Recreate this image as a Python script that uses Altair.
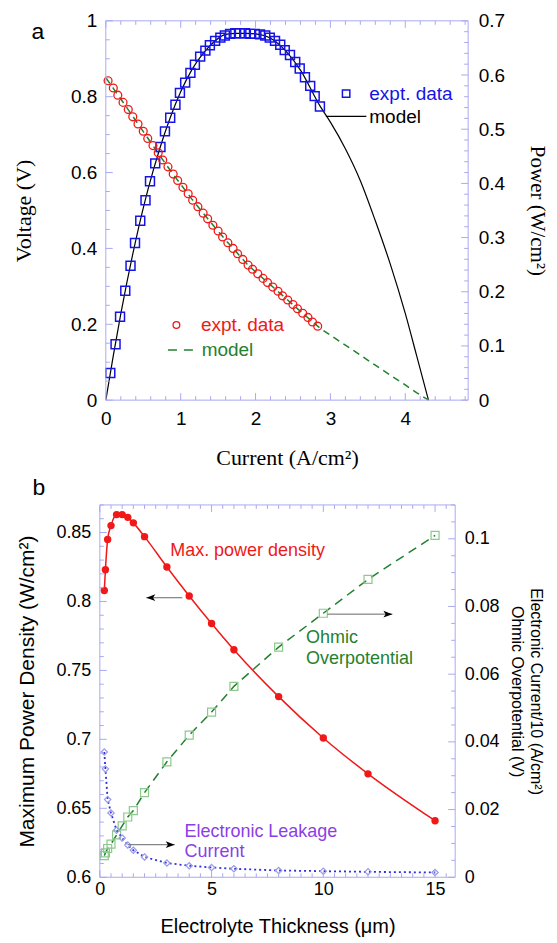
import altair as alt
import pandas as pd

# ---------------- panel a : I-V and I-P curves ----------------
curr_v = [0.03, 0.10, 0.16, 0.23, 0.30, 0.36, 0.43, 0.50, 0.56, 0.63, 0.70,
          0.76, 0.83, 0.90, 0.96, 1.03, 1.10, 1.16, 1.23, 1.30, 1.36, 1.43,
          1.50, 1.56, 1.63, 1.70, 1.76, 1.83, 1.90, 1.96, 2.03, 2.10, 2.16,
          2.23, 2.30, 2.36, 2.43, 2.50, 2.56, 2.63, 2.70, 2.76, 2.83]
volt = [0.842, 0.823, 0.804, 0.785, 0.766, 0.747, 0.728, 0.709, 0.690, 0.671, 0.652,
        0.633, 0.615, 0.596, 0.579, 0.561, 0.544, 0.527, 0.510, 0.493, 0.478, 0.461,
        0.446, 0.430, 0.415, 0.400, 0.386, 0.371, 0.356, 0.345, 0.333, 0.321, 0.310,
        0.298, 0.287, 0.275, 0.264, 0.252, 0.241, 0.229, 0.218, 0.206, 0.195]
curr_p = [0.06, 0.13, 0.19, 0.26, 0.33, 0.39, 0.46, 0.53, 0.59, 0.66, 0.73,
          0.79, 0.86, 0.93, 0.99, 1.06, 1.13, 1.19, 1.26, 1.33, 1.39, 1.46,
          1.53, 1.59, 1.66, 1.73, 1.79, 1.86, 1.93, 1.99, 2.06, 2.13, 2.19,
          2.26, 2.33, 2.39, 2.46, 2.53, 2.59, 2.66, 2.73, 2.79, 2.86]
power = [0.050, 0.103, 0.154, 0.202, 0.248, 0.290, 0.331, 0.369, 0.404, 0.437, 0.467,
         0.496, 0.521, 0.545, 0.567, 0.586, 0.604, 0.619, 0.634, 0.645, 0.655, 0.663,
         0.669, 0.673, 0.676, 0.677, 0.677, 0.677, 0.676, 0.676, 0.675, 0.673, 0.669,
         0.663, 0.656, 0.646, 0.637, 0.624, 0.612, 0.596, 0.580, 0.561, 0.542]
curr_model = [0.0, 0.1, 0.2, 0.4, 0.56, 0.72, 0.86, 1.0, 1.15, 1.3, 1.45, 1.6, 1.75, 1.88,
              2.0, 2.2, 2.4, 2.6, 2.86, 3.0, 3.2, 3.4, 3.6, 3.8, 4.0, 4.15, 4.31]
volt_model = [0.850, 0.822, 0.794, 0.737, 0.691, 0.645, 0.606, 0.569, 0.530, 0.493, 0.457,
              0.422, 0.389, 0.360, 0.338, 0.304, 0.269, 0.234, 0.190, 0.171, 0.145, 0.119,
              0.092, 0.066, 0.040, 0.020, 0.0]
power_model = [0.0, 0.082, 0.159, 0.295, 0.387, 0.464, 0.521, 0.569, 0.610, 0.640, 0.662,
               0.675, 0.677, 0.677, 0.676, 0.668, 0.645, 0.609, 0.543, 0.513, 0.464, 0.405,
               0.331, 0.251, 0.160, 0.083, 0.0]

# ---------------- panel b : thickness study ----------------
thickness = [0.2, 0.25, 0.35, 0.5, 0.75, 1.0, 1.25, 1.5, 2, 3, 4, 5, 6, 8, 10, 12, 15]
max_power = [0.808, 0.823, 0.845, 0.855, 0.863, 0.863, 0.861, 0.857, 0.847, 0.825,
             0.804, 0.784, 0.765, 0.731, 0.701, 0.675, 0.641]
leak_current = [0.037, 0.032, 0.023, 0.019, 0.0139, 0.0116, 0.0095, 0.008, 0.006, 0.0042,
                0.0034, 0.0029, 0.0025, 0.002, 0.0018, 0.0016, 0.0014]
ohmic = [0.0064, 0.0072, 0.0085, 0.0098, 0.0125, 0.0152, 0.0178, 0.0197, 0.025, 0.0341,
         0.042, 0.0488, 0.0564, 0.068, 0.078, 0.088, 0.101]

# tick label values
xa_labels = [0, 1, 2, 3, 4]
va_labels = [0, 0.2, 0.4, 0.6, 0.8, 1]
pa_labels = [0, 0.1, 0.2, 0.3, 0.4, 0.5, 0.6, 0.7]
xb_labels = [0, 5, 10, 15]
pb_labels = [0.6, 0.65, 0.7, 0.75, 0.8, 0.85]
rb_labels = [0, 0.02, 0.04, 0.06, 0.08, 0.1]

SANS = "Liberation Sans"
SERIF = "Liberation Serif"
AX = "#a9a9f2"
RED = "#f01818"
BLUE = "#1414e6"
GREEN = "#23812f"
LGREEN = "#8cc98c"
DBLUE = "#2f2fe0"
LBLUE = "#9a9aec"
PURPLE = "#8b3ee6"

WA, HA = 369, 380
XA_RANGE = [6, 369]
XA_DOM = [0, 4.84]
VA_DOM = [0, 1]
PA_DOM = [0, 0.7]

WB, HB = 356, 373
XB_DOM = [0, 15.9]
PB_DOM = [0.6, 0.87]
RB_DOM = [0, 0.11]

MAJ, MIN = 7, 4


def sc(dom, rng=None):
    if rng is None:
        return alt.Scale(domain=dom, nice=False, zero=False)
    return alt.Scale(domain=dom, range=rng, nice=False, zero=False)


def axis_kw(**kw):
    base = dict(format="~g", ticks=False, tickSize=0, domain=False, grid=False,
                labelFlush=False, labelColor="black", titleColor="black",
                titleFontWeight="normal", labelFont=SANS)
    base.update(kw)
    return alt.Axis(**base)


xa_axis = axis_kw(values=xa_labels, title="Current (A/cm²)", titleFont=SERIF,
                  titleFontSize=22, titlePadding=19, labelFontSize=19, labelPadding=9)
va_axis = axis_kw(orient="left", values=va_labels, title="Voltage (V)", titleFont=SERIF,
                  titleFontSize=22, titlePadding=35, labelFontSize=19, labelPadding=9, offset=-6)
pa_axis = axis_kw(orient="right", values=pa_labels, title="Power (W/cm²)", titleFont=SERIF,
                  titleFontSize=21, titlePadding=22, labelFontSize=19, labelPadding=10)

xb_axis = axis_kw(values=xb_labels, title="Electrolyte Thickness  (μm)", titleFont=SANS,
                  titleFontSize=20, titlePadding=18, labelFontSize=18, labelPadding=3)
pb_axis = axis_kw(orient="left", values=pb_labels, title="Maximum Power Density (W/cm²)",
                  titleFont=SANS, titleFontSize=21, titlePadding=18, labelFontSize=18, labelPadding=9)
rb_axis = axis_kw(orient="right", values=rb_labels,
                  title=["Electronic Current/10 (A/cm²)", "Ohmic Overpotential (V)"],
                  titleFont=SANS, titleFontSize=16, titleLineHeight=19, titlePadding=9,
                  labelFontSize=18, labelPadding=9)


def xa(field="x"):
    return alt.X(f"{field}:Q", scale=sc(XA_DOM, XA_RANGE), axis=xa_axis)


def xb(field="x"):
    return alt.X(f"{field}:Q", scale=sc(XB_DOM), axis=xb_axis)


def yy(field, dom, axis=None):
    return alt.Y(f"{field}:Q", scale=sc(dom), axis=axis)


def xticks(xfn, vals, H, L):
    df = pd.DataFrame({"v": vals})
    bot = alt.Chart(df).mark_rule(color=AX, strokeWidth=1).encode(
        x=xfn("v"), y=alt.value(H), y2=alt.value(H - L))
    top = alt.Chart(df).mark_rule(color=AX, strokeWidth=1).encode(
        x=xfn("v"), y=alt.value(0), y2=alt.value(L))
    return [bot, top]


def yticks(vals, dom, X, L):
    df = pd.DataFrame({"v": vals})
    return alt.Chart(df).mark_rule(color=AX, strokeWidth=1).encode(
        y=yy("v", dom), x=alt.value(X), x2=alt.value(X + L))


def split(vals, step):
    major = [v for v in vals if abs(round(v / step) * step - v) < 1e-9]
    minor = [v for v in vals if abs(round(v / step) * step - v) >= 1e-9]
    return major, minor


ONE = pd.DataFrame({"d": [0]})


def border(W, H, x0=0):
    return alt.Chart(ONE).mark_rect(fillOpacity=0, stroke=AX, strokeWidth=1).encode(
        x=alt.value(x0), x2=alt.value(W), y=alt.value(0), y2=alt.value(H))


# ---------------- build panel a ----------------
df_v = pd.DataFrame({"x": curr_v, "y": volt})
df_p = pd.DataFrame({"x": curr_p, "y": power})
df_m = pd.DataFrame({"x": curr_model, "v": volt_model, "p": power_model})

xa_vals = [round(0.2 * i, 1) for i in range(25)]
va_vals = [round(0.05 * i, 2) for i in range(21)]
pa_vals = [round(0.02 * i, 2) for i in range(36)]
xa_maj, xa_min = split(xa_vals, 1)
va_maj, va_min = split(va_vals, 0.2)
pa_maj, pa_min = split(pa_vals, 0.1)

layers_a = []
layers_a.append(alt.Chart(df_m).mark_line(color="black", strokeWidth=1.2, interpolate="monotone")
                .encode(x=xa(), y=yy("p", PA_DOM)))
layers_a.append(alt.Chart(df_m).mark_line(color=GREEN, strokeWidth=1.5, strokeDash=[7, 5])
                .encode(x=xa(), y=yy("v", VA_DOM)))
layers_a.append(alt.Chart(df_p).mark_point(shape="square", size=80, filled=False, color=BLUE,
                                           strokeWidth=1.5, opacity=1)
                .encode(x=xa(), y=yy("y", PA_DOM, pa_axis)))
layers_a.append(alt.Chart(df_v).mark_point(shape="circle", size=62, filled=False, color=RED,
                                           strokeWidth=1.3, opacity=1)
                .encode(x=xa(), y=yy("y", VA_DOM, va_axis)))

layers_a.append(border(WA, HA, 6))
layers_a += xticks(xa, xa_maj, HA, MAJ) + xticks(xa, xa_min, HA, MIN)
layers_a += [yticks(va_maj, VA_DOM, 6, MAJ), yticks(va_min, VA_DOM, 6, MIN),
             yticks(pa_maj, PA_DOM, WA, -MAJ), yticks(pa_min, PA_DOM, WA, -MIN)]

# legends (inside plot)
layers_a.append(alt.Chart(pd.DataFrame({"x": [3.21], "y": [0.808]}))
                .mark_point(shape="square", size=55, filled=False, color=BLUE, strokeWidth=1.5, opacity=1)
                .encode(x=xa(), y=yy("y", VA_DOM)))
layers_a.append(alt.Chart(pd.DataFrame({"x": [0.943], "y": [0.198]}))
                .mark_point(shape="circle", size=45, filled=False, color=RED, strokeWidth=1.3, opacity=1)
                .encode(x=xa(), y=yy("y", VA_DOM)))
layers_a.append(alt.Chart(pd.DataFrame({"x": [2.94], "x2": [3.48], "y": [0.748]}))
                .mark_rule(color="black", strokeWidth=1.2)
                .encode(x=xa(), x2="x2:Q", y=yy("y", VA_DOM)))
layers_a.append(alt.Chart(pd.DataFrame({"x": [0.83], "x2": [1.19], "y": [0.132]}))
                .mark_rule(color=GREEN, strokeWidth=1.5, strokeDash=[9, 7])
                .encode(x=xa(), x2="x2:Q", y=yy("y", VA_DOM)))
leg_a = pd.DataFrame({"x": [3.52, 3.52, 1.27, 1.28], "y": [0.806, 0.747, 0.197, 0.132],
                      "t": ["expt. data", "model", "expt. data", "model"],
                      "c": [BLUE, "black", RED, GREEN]})
layers_a.append(alt.Chart(leg_a).mark_text(align="left", baseline="middle", font=SANS, fontSize=19)
                .encode(x=xa(), y=yy("y", VA_DOM), text="t:N", color=alt.Color("c:N", scale=None)))
layers_a.append(alt.Chart(ONE).mark_text(text="a", font=SANS, fontSize=23, align="center",
                                         baseline="middle", color="black")
                .encode(x=alt.value(-62), y=alt.value(11)))

panel_a = alt.layer(*layers_a).resolve_scale(y="independent").resolve_axis(y="independent") \
    .properties(width=WA, height=HA)

# ---------------- build panel b ----------------
df_b = pd.DataFrame({"x": thickness, "p": max_power, "leak": leak_current, "ohm": ohmic})

xb_vals = [0.5 * i for i in range(32)]
pb_vals = [round(0.6 + 0.01 * i, 2) for i in range(28)]
rb_vals = [round(0.005 * i, 3) for i in range(23)]
xb_maj, xb_min = split(xb_vals, 5)
pb_maj = [v for i, v in enumerate(pb_vals) if i % 5 == 0]
pb_min = [v for i, v in enumerate(pb_vals) if i % 5 != 0]
rb_maj, rb_min = split(rb_vals, 0.02)

layers_b = []
layers_b.append(alt.Chart(df_b).mark_line(color=GREEN, strokeWidth=1.5, strokeDash=[9, 6])
                .encode(x=xb(), y=yy("ohm", RB_DOM, rb_axis)))
layers_b.append(alt.Chart(df_b).mark_point(shape="square", size=64, filled=False, color=LGREEN,
                                           strokeWidth=1.2, opacity=1)
                .encode(x=xb(), y=yy("ohm", RB_DOM)))
layers_b.append(alt.Chart(df_b).mark_line(color=DBLUE, strokeWidth=1.8, strokeDash=[2, 3])
                .encode(x=xb(), y=yy("leak", RB_DOM)))
layers_b.append(alt.Chart(df_b).mark_point(shape="diamond", size=40, filled=False, color=LBLUE,
                                           strokeWidth=1.2, opacity=1)
                .encode(x=xb(), y=yy("leak", RB_DOM)))
layers_b.append(alt.Chart(df_b).mark_line(color=RED, strokeWidth=1.5, interpolate="monotone")
                .encode(x=xb(), y=yy("p", PB_DOM, pb_axis)))
layers_b.append(alt.Chart(df_b).mark_point(shape="circle", size=55, filled=True, color=RED, opacity=1)
                .encode(x=xb(), y=yy("p", PB_DOM)))

layers_b.append(border(WB, HB))
layers_b += xticks(xb, xb_maj, HB, MAJ) + xticks(xb, xb_min, HB, MIN)
layers_b += [yticks(pb_maj, PB_DOM, 0, MAJ), yticks(pb_min, PB_DOM, 0, MIN),
             yticks(rb_maj, RB_DOM, WB, -MAJ), yticks(rb_min, RB_DOM, WB, -MIN)]

# annotations
ann_b = pd.DataFrame({
    "x": [3.15, 9.23, 9.23, 3.79, 3.79],
    "y": [0.8368, 0.7733, 0.7581, 0.6325, 0.6181],
    "t": ["Max. power density", "Ohmic", "Overpotential", "Electronic Leakage", "Current"],
    "c": [RED, GREEN, GREEN, PURPLE, PURPLE]})
layers_b.append(alt.Chart(ann_b).mark_text(align="left", baseline="middle", font=SANS, fontSize=18)
                .encode(x=xb(), y=yy("y", PB_DOM), text="t:N", color=alt.Color("c:N", scale=None)))
arrows = pd.DataFrame({"x": [2.08, 10.19, 1.24], "x2": [3.69, 13.09, 3.35],
                       "y": [0.8027, 0.7908, 0.6236]})
layers_b.append(alt.Chart(arrows).mark_rule(color="#666666", strokeWidth=1)
                .encode(x=xb(), x2="x2:Q", y=yy("y", PB_DOM)))
layers_b.append(alt.Chart(pd.DataFrame({"x": [2.08], "y": [0.8027]}))
                .mark_point(shape="M0,0L2,-0.75L1.5,0L2,0.75Z", size=81, filled=True,
                            color="black", opacity=1)
                .encode(x=xb(), y=yy("y", PB_DOM)))
layers_b.append(alt.Chart(pd.DataFrame({"x": [13.09, 3.35], "y": [0.7908, 0.6236]}))
                .mark_point(shape="M0,0L-2,-0.75L-1.5,0L-2,0.75Z", size=81, filled=True,
                            color="black", opacity=1)
                .encode(x=xb(), y=yy("y", PB_DOM)))
layers_b.append(alt.Chart(ONE).mark_text(text="b", font=SANS, fontSize=23, align="center",
                                         baseline="middle", color="black")
                .encode(x=alt.value(-61), y=alt.value(-16.5)))

panel_b = alt.layer(*layers_b).resolve_scale(y="independent").resolve_axis(y="independent") \
    .properties(width=WB, height=HB)

chart = alt.vconcat(panel_a, panel_b, spacing=9).properties(
    padding={"left": 4, "top": 3, "right": 1, "bottom": 0},
    background="white",
).configure_view(strokeWidth=0)

chart.save("out.html", embed_options={"renderer": "svg", "actions": False})
